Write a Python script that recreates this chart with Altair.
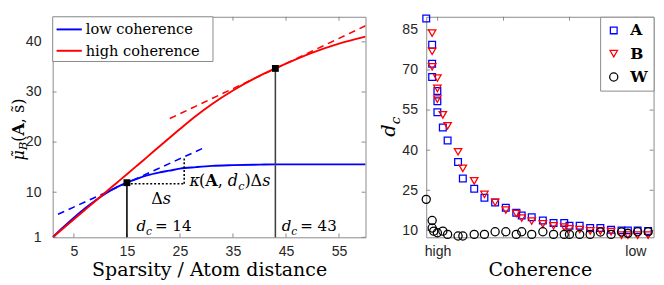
import altair as alt
import pandas as pd

# ---------------- left panel values ----------------
sparsity = [1, 3, 5, 7, 9, 11, 13, 15, 17, 19, 21, 23, 25, 28, 31, 35, 40, 43, 45, 50, 55, 60]
mu_low = [1.0, 3.0, 4.9, 6.7, 8.3, 9.75, 10.95, 11.9, 12.7, 13.4, 13.9, 14.3, 14.7, 15.0,
          15.25, 15.4, 15.5, 15.55, 15.55, 15.55, 15.55, 15.55]
mu_high = [1.0, 2.8, 4.6, 6.4, 8.2, 10.0, 11.8, 13.6, 15.4, 17.2, 19.0, 20.8, 22.6, 25.2,
           27.55, 30.3, 33.2, 34.7, 35.65, 37.85, 39.65, 41.05]
curve_names = ["low coherence", "high coherence"]
curve_colors = ["#0000ff", "#ff0000"]

# tangent (dashed) segments: endpoints per curve
tangent_x = {"low coherence": [2.0, 29.4], "high coherence": [23.1, 60.0]}
tangent_y = {"low coherence": [5.6, 18.8], "high coherence": [24.7, 43.2]}

# critical points d_c
dc_x = [15, 43]
dc_mu = [11.9, 34.7]
dc_text = ["= 14", "= 43"]
dc_rule_color = ["#000000", "#404040"]
dc_label_x = [16.8, 44.2]
dc_label_y = [2.17, 2.17]

# Δs / κ construction (dotted)
step_x = [15.0, 25.8]
step_y = [11.7, 17.0]
delta_label = (19.6, 7.7)
kappa_label = (26.8, 11.3)

left_xticks = [5, 15, 25, 35, 45, 55]
left_yticks = [1, 10, 20, 30, 40]

# ---------------- right panel values ----------------
coh_A = [0.0, 0.026, 0.026, 0.026, 0.049, 0.049, 0.049, 0.073, 0.094, 0.14, 0.161, 0.211,
         0.256, 0.303, 0.35, 0.396, 0.42, 0.464, 0.513, 0.56, 0.607, 0.63, 0.675, 0.721,
         0.766, 0.813, 0.859, 0.887, 0.93, 0.976]
dc_A = [89.3, 79.4, 72.3, 67.4, 62.1, 58.3, 54.2, 48.5, 43.6, 35.6, 29.4, 25.6, 22.2, 20.4,
        18.5, 16.6, 15.6, 14.9, 13.7, 12.8, 12.8, 11.7, 11.7, 10.9, 10.9, 10.2, 10.0, 10.0,
        10.0, 9.8]
coh_B = [0.026, 0.026, 0.026, 0.049, 0.049, 0.049, 0.073, 0.094, 0.14, 0.161, 0.211, 0.256,
         0.303, 0.35, 0.396, 0.42, 0.464, 0.513, 0.56, 0.607, 0.63, 0.675, 0.721, 0.766,
         0.813, 0.859, 0.887, 0.93, 0.976]
dc_B = [83.8, 77.0, 71.2, 67.0, 63.1, 59.1, 53.2, 49.1, 39.4, 33.2, 28.5, 23.5, 20.5, 17.6,
        16.3, 14.6, 13.5, 12.4, 11.7, 11.2, 10.6, 10.3, 9.8, 9.8, 9.5, 8.2, 8.2, 8.2, 8.2]
coh_W = [0.0, 0.026, 0.026, 0.033, 0.049, 0.073, 0.094, 0.14, 0.161, 0.211, 0.256, 0.303,
         0.35, 0.396, 0.42, 0.464, 0.513, 0.56, 0.607, 0.63, 0.675, 0.721, 0.766, 0.813,
         0.859, 0.887, 0.93, 0.976]
dc_W = [21.6, 13.7, 10.9, 9.7, 9.1, 9.7, 8.5, 7.9, 7.9, 8.5, 8.5, 9.5, 9.5, 8.5, 9.5, 8.5,
        9.5, 8.5, 8.5, 8.5, 8.5, 8.5, 9.4, 8.5, 9.4, 8.9, 9.5, 9.5]
dict_names = ["A", "B", "W"]
dict_colors = ["#0000ff", "#ff0000", "#000000"]
dict_shapes = ["square", "triangle-down", "circle"]
dict_sizes = [48, 70, 48]

right_yticks = [10, 25, 40, 55, 70, 85]
right_xticks = [0.05, 0.34, 0.63, 0.92]
right_xlabels = ["high", "", "", "low"]

# ---------------- layout constants ----------------
WL, HL = 322, 227
WR, HR = 234, 227
SERIF = "DejaVu Serif"
SANS = "Liberation Sans"
FRAME = "#888888"
TICKLEN = 4

one_row = pd.DataFrame({"k": [0]})


def spacer(xpos, h):
    # short white rule that fixes the panel's left extent (drawn where nothing else is)
    return alt.Chart(one_row).mark_rule(color="white", strokeWidth=1).encode(
        x=alt.value(xpos), y=alt.value(h - 4), y2=alt.value(h))


# ---------------- left panel ----------------
curves = pd.DataFrame({
    "x": sparsity * 2,
    "mu": mu_low + mu_high,
    "series": [curve_names[0]] * len(sparsity) + [curve_names[1]] * len(sparsity),
})

xL = alt.Scale(domain=[1, 60], nice=False, zero=False)
yL = alt.Scale(domain=[1, 45], nice=False, zero=False)
xAxisL = alt.Axis(values=left_xticks, title="Sparsity / Atom distance", labelPadding=8,
                  titlePadding=3)
yAxisL = alt.Axis(values=left_yticks, title=None, labelPadding=12)

curve_layer = alt.Chart(curves).mark_line(strokeWidth=2, clip=True,
                                          interpolate="monotone").encode(
    x=alt.X("x:Q", scale=xL, axis=xAxisL),
    y=alt.Y("mu:Q", scale=yL, axis=yAxisL),
    color=alt.Color("series:N", scale=alt.Scale(domain=curve_names, range=curve_colors),
                    legend=None),
    order="x:Q",
)

tangent_layers = []
for name, col in zip(curve_names, curve_colors):
    tdf = pd.DataFrame({"x": tangent_x[name], "mu": tangent_y[name]})
    tangent_layers.append(
        alt.Chart(tdf).mark_line(color=col, strokeWidth=1.6, strokeDash=[7, 5], clip=True)
        .encode(x=alt.X("x:Q", scale=xL), y=alt.Y("mu:Q", scale=yL))
    )

dotted = pd.DataFrame({
    "x": [step_x[0], step_x[1]], "x2": [step_x[1], step_x[1]],
    "y": [step_y[0], step_y[0]], "y2": [step_y[0], step_y[1]],
})
dotted_layer = alt.Chart(dotted).mark_rule(color="black", strokeWidth=1.6,
                                           strokeDash=[2, 2]).encode(
    x=alt.X("x:Q", scale=xL), x2="x2:Q", y=alt.Y("y:Q", scale=yL), y2="y2:Q")

dcdf = pd.DataFrame({"x": dc_x, "mu": dc_mu, "base": [1, 1], "c": dc_rule_color,
                     "lx": dc_label_x, "ly": dc_label_y, "t": dc_text})
dc_rules = alt.Chart(dcdf).mark_rule(strokeWidth=1.6).encode(
    x=alt.X("x:Q", scale=xL), y=alt.Y("base:Q", scale=yL), y2="mu:Q",
    color=alt.Color("c:N", scale=None))
dc_squares = alt.Chart(dcdf).mark_point(shape="square", filled=True, size=50,
                                        color="black", opacity=1).encode(
    x=alt.X("x:Q", scale=xL), y=alt.Y("mu:Q", scale=yL))


# text pieces anchored in data coords: (text, dx, dy, size, style, weight)
def pieces_at(df, xcol, ycol, pieces):
    out = []
    for txt, dx, dy, size, style, weight in pieces:
        out.append(
            alt.Chart(df).mark_text(text=txt, dx=dx, dy=dy, fontSize=size, font=SERIF,
                                    fontStyle=style, fontWeight=weight, align="left",
                                    baseline="alphabetic", color="black")
            .encode(x=alt.X(f"{xcol}:Q", scale=xL), y=alt.Y(f"{ycol}:Q", scale=yL))
        )
    return out


dc_label_layers = []
for i in range(len(dc_x)):
    one = dcdf.iloc[[i]]
    dc_label_layers += pieces_at(one, "lx", "ly", [
        ("d", 0, 0, 15.5, "italic", "normal"),
        ("c", 9.9, 3.5, 11, "italic", "normal"),
        (dc_text[i], 19, 0, 15.5, "normal", "normal"),
    ])

delta_df = pd.DataFrame({"lx": [delta_label[0]], "ly": [delta_label[1]]})
delta_layers = pieces_at(delta_df, "lx", "ly", [
    ("Δ", 0, 0, 16.5, "normal", "normal"),
    ("s", 11.9, 0, 16.5, "italic", "normal"),
])
kappa_df = pd.DataFrame({"lx": [kappa_label[0]], "ly": [kappa_label[1]]})
kappa_layers = pieces_at(kappa_df, "lx", "ly", [
    ("κ", 0, 0, 16.5, "italic", "normal"),
    ("(", 9.9, 0, 16.5, "normal", "normal"),
    ("A", 16.3, 0, 16.5, "normal", "bold"),
    (",", 29.1, 0, 16.5, "normal", "normal"),
    ("d", 39.5, 0, 16.5, "italic", "normal"),
    ("c", 50.1, 4, 11.5, "italic", "normal"),
    (")", 56.5, 0, 16.5, "normal", "normal"),
    ("Δ", 62.9, 0, 16.5, "normal", "normal"),
    ("s", 74.8, 0, 16.5, "italic", "normal"),
])

# legend box for the two curves (pixel layout inside the plot)
legend_box = alt.Chart(one_row).mark_rect(fill="white", stroke=FRAME, strokeWidth=1).encode(
    x=alt.value(0), x2=alt.value(165), y=alt.value(0), y2=alt.value(46))
legend_layers = [legend_box]
for i, (name, col) in enumerate(zip(curve_names, curve_colors)):
    yy = 13 + 22 * i
    legend_layers.append(
        alt.Chart(one_row).mark_rule(color=col, strokeWidth=2).encode(
            x=alt.value(4), x2=alt.value(30), y=alt.value(yy)))
    legend_layers.append(
        alt.Chart(one_row).mark_text(text=name, align="left", baseline="middle",
                                     font=SERIF, fontSize=15, color="black").encode(
            x=alt.value(34), y=alt.value(yy)))


# rotated y-axis title built from pieces (pixel layout)
def rotated_title(pieces, x0):
    out = []
    for txt, ypos, xoff, size, style, weight in pieces:
        out.append(
            alt.Chart(one_row).mark_text(text=txt, angle=270, align="left",
                                         baseline="alphabetic", fontSize=size, font=SERIF,
                                         fontStyle=style, fontWeight=weight, color="black")
            .encode(x=alt.value(x0 + xoff), y=alt.value(ypos))
        )
    return out


ytitle_left = rotated_title([
    ("μ\u0303", 148, 0, 16.5, "italic", "normal"),
    ("B", 137.5, 3.5, 12, "italic", "normal"),
    ("(", 128.7, 0, 16.5, "normal", "normal"),
    ("A", 122.3, 0, 16.5, "normal", "bold"),
    (", s\u0303)", 109.5, 0, 16.5, "normal", "normal"),
], -29.5)

# inward ticks
xt = pd.DataFrame({"v": left_xticks})
yt = pd.DataFrame({"v": left_yticks})
tick_layers_left = [
    alt.Chart(xt).mark_rule(color=FRAME).encode(x=alt.X("v:Q", scale=xL),
                                                  y=alt.value(HL), y2=alt.value(HL - TICKLEN)),
    alt.Chart(xt).mark_rule(color=FRAME).encode(x=alt.X("v:Q", scale=xL),
                                                  y=alt.value(0), y2=alt.value(TICKLEN)),
    alt.Chart(yt).mark_rule(color=FRAME).encode(y=alt.Y("v:Q", scale=yL),
                                                  x=alt.value(0), x2=alt.value(TICKLEN)),
    alt.Chart(yt).mark_rule(color=FRAME).encode(y=alt.Y("v:Q", scale=yL),
                                                  x=alt.value(WL), x2=alt.value(WL - TICKLEN)),
]

left = alt.layer(
    spacer(-44.5, HL), *tick_layers_left, *tangent_layers, curve_layer, dotted_layer,
    dc_rules, dc_squares, *dc_label_layers, *delta_layers, *kappa_layers, *legend_layers,
    *ytitle_left
).properties(width=WL, height=HL)

# ---------------- right panel ----------------
pts = pd.DataFrame({
    "coh": coh_A + coh_B + coh_W,
    "dc": dc_A + dc_B + dc_W,
    "dict": ["A"] * len(coh_A) + ["B"] * len(coh_B) + ["W"] * len(coh_W),
})
xR = alt.Scale(domain=[0, 1], nice=False, zero=False)
yR = alt.Scale(domain=[7.4, 89.9], nice=False, zero=False)

label_expr = " : ".join(
    f"abs(datum.value - {v}) < 0.01 ? '{t}'" for v, t in zip(right_xticks, right_xlabels)
) + " : ''"

right_legend = alt.Legend(title=None, orient="top-right", offset=0, fillColor="white",
                          strokeColor=FRAME, padding=6, labelFont=SERIF,
                          labelFontWeight="bold", labelFontSize=16, labelColor="black",
                          symbolStrokeWidth=1.3, rowPadding=8, labelOffset=9)

point_layer = alt.Chart(pts).mark_point(filled=False, strokeWidth=1.3, opacity=1).encode(
    x=alt.X("coh:Q", scale=xR, axis=alt.Axis(values=right_xticks, labelExpr=label_expr,
                                             title="Coherence", labelPadding=8,
                                             titlePadding=3)),
    y=alt.Y("dc:Q", scale=yR, axis=alt.Axis(values=right_yticks, title=None,
                                            labelPadding=9)),
    color=alt.Color("dict:N", scale=alt.Scale(domain=dict_names, range=dict_colors),
                    legend=right_legend),
    shape=alt.Shape("dict:N", scale=alt.Scale(domain=dict_names, range=dict_shapes),
                    legend=right_legend),
    size=alt.Size("dict:N", scale=alt.Scale(domain=dict_names, range=dict_sizes),
                  legend=right_legend),
)

xtr = pd.DataFrame({"v": right_xticks})
ytr = pd.DataFrame({"v": right_yticks})
tick_layers_right = [
    alt.Chart(xtr).mark_rule(color=FRAME).encode(x=alt.X("v:Q", scale=xR),
                                                   y=alt.value(HR), y2=alt.value(HR - TICKLEN)),
    alt.Chart(xtr).mark_rule(color=FRAME).encode(x=alt.X("v:Q", scale=xR),
                                                   y=alt.value(0), y2=alt.value(TICKLEN)),
    alt.Chart(ytr).mark_rule(color=FRAME).encode(y=alt.Y("v:Q", scale=yR),
                                                   x=alt.value(0), x2=alt.value(TICKLEN)),
    alt.Chart(ytr).mark_rule(color=FRAME).encode(y=alt.Y("v:Q", scale=yR),
                                                   x=alt.value(WR), x2=alt.value(WR - TICKLEN)),
]

ytitle_right = rotated_title([
    ("d", 123.5, 0, 20, "italic", "normal"),
    ("c", 110.7, 4.5, 14, "italic", "normal"),
], -32)

right = alt.layer(spacer(-46.5, HR), *tick_layers_right, point_layer,
                  *ytitle_right).properties(width=WR, height=HR)

chart = alt.hconcat(left, right, spacing=12.5).resolve_scale(
    color="independent", shape="independent", size="independent"
).properties(padding={"left": 0, "top": 0, "right": 0, "bottom": 0}).configure_view(
    stroke=FRAME, strokeWidth=1
).configure_axis(
    domain=False, ticks=False, grid=False, labelFont=SANS, labelFontSize=14.5,
    labelColor="#262626", titleFont=SERIF, titleFontSize=19.5, titleFontWeight="normal",
    titleColor="black"
)

chart.save("out.html", embed_options={"renderer": "svg", "actions": False})
